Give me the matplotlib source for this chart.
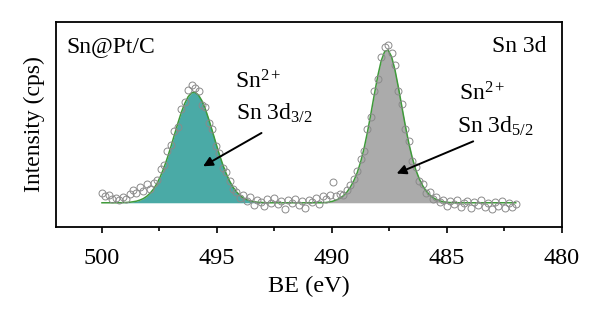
import numpy as np
import matplotlib.pyplot as plt

# binding energy grid (eV), 0.15 eV step from 500.0 down to 482.0
be_start, be_step, n_pts = 500.0, 0.15, 121

# measured intensity above background (a.u.)
counts = [
    10, 7, 8, 4, 5, 3, 6, 4, 9, 13,
    10, 16, 12, 19, 14, 20, 23, 34, 38, 52,
    58, 72, 76, 94, 101, 113, 118, 115, 112, 98,
    96, 80, 74, 57, 50, 35, 31, 22, 14, 11,
    5, 8, 2, 6, -2, 3, 1, -3, 4, 0,
    5, -1, 2, -6, 3, 0, 4, -2, 2, -5,
    3, 1, 5, -1, 7, 4, 8, 21, 7, 9,
    8, 13, 18, 24, 32, 44, 52, 74, 86, 112,
    124, 146, 156, 158, 150, 138, 112, 99, 74, 62,
    42, 36, 22, 19, 10, 11, 4, 6, 1, 3,
    -3, 2, -1, 3, -4, 0, 2, -5, 1, -2,
    3, -4, 0, -6, 1, -3, 2, -5, 0, -4,
    -1,
]

# fitted envelope (Sn 3d3/2 + Sn 3d5/2)
fit = [
    0, 0, 0, 0, 0, 0, 0.1, 0.3, 0.5, 1.0,
    1.6, 2.7, 4.2, 6.5, 9.7, 14.0, 19.7, 26.8, 35.4, 45.4,
    56.4, 68.1, 79.7, 90.5, 99.6, 106.4, 110.3, 110.8, 108.0, 102.2,
    93.8, 83.4, 72.0, 60.3, 49.0, 38.6, 29.5, 21.9, 15.7, 11.0,
    7.4, 4.9, 3.1, 1.9, 1.2, 0.6, 0.3, 0.2, 0, 0,
    0, 0, 0, 0, 0, 0, 0, 0, 0, 0,
    0, 0, 0, 0, 0, 0.3, 0.8, 1.6, 2.8, 4.5,
    7.0, 10.5, 15.5, 21.8, 29.9, 40.7, 54.4, 70.9, 89.4, 108.8,
    127.4, 142.6, 151.8, 153.2, 146.4, 132.9, 115.2, 95.9, 76.9, 59.6,
    45.0, 33.2, 24.2, 17.2, 12.0, 8.0, 5.2, 3.2, 1.9, 1.0,
    0.5, 0.2, 0, 0, 0, 0, 0, 0, 0, 0,
    0, 0, 0, 0, 0, 0, 0, 0, 0, 0,
    0,
]

be = be_start - be_step * np.arange(n_pts)
counts = np.array(counts, dtype=float)
fit = np.array(fit)

plt.rcParams["font.family"] = ["Liberation Serif", "DejaVu Serif"]
plt.rcParams["mathtext.fontset"] = "custom"
plt.rcParams["mathtext.rm"] = "Liberation Serif"
plt.rcParams["mathtext.it"] = "Liberation Serif:italic"

fig = plt.figure(figsize=(6, 3.21), dpi=100)
ax = fig.add_axes([56 / 600, 1 - 226.7 / 321, 505.7 / 600, 204.4 / 321])

teal = "#4aaaa6"
grey = "#ababab"
green = "#3f9a3a"

ax.fill_between(be, 0, fit, where=be > 491, color=teal, lw=0, zorder=1)
ax.fill_between(be, 0, fit, where=be < 491, color=grey, lw=0, zorder=1)
ax.plot(be, fit, color=green, lw=1.1, zorder=2)
ax.plot(be, counts, "o", ms=5, mfc="none", mec="#8a8a8a", mew=0.7, zorder=3)

ax.set_xlim(502, 480)
ax.set_ylim(-24, 181)
ax.set_xticks([500, 495, 490, 485, 480])
ax.set_xticks([497.5, 492.5, 487.5, 482.5], minor=True)
ax.set_yticks([])
ax.tick_params(axis="x", which="major", direction="out", length=4.5, width=1.2,
               labelsize=17.5, pad=11)
ax.tick_params(axis="x", which="minor", direction="out", length=3, width=1.2)
for s in ax.spines.values():
    s.set_linewidth(1.3)

ax.set_xlabel("BE (eV)", fontsize=17.5, labelpad=5)
ax.set_ylabel("Intensity (cps)", fontsize=17, labelpad=8)

ax.text(0.021, 0.856, "Sn@Pt/C", transform=ax.transAxes, fontsize=17,
        ha="left", va="baseline")
ax.text(0.970, 0.856, "Sn 3d", transform=ax.transAxes, fontsize=17,
        ha="right", va="baseline")

ax.text(494.22, 115, r"Sn$^{\mathrm{2+}}$", fontsize=17, va="baseline")
ax.text(494.15, 83, r"Sn 3d$_{\mathrm{3/2}}$", fontsize=17, va="baseline")
ax.text(484.46, 103, r"Sn$^{\mathrm{2+}}$", fontsize=17, va="baseline")
ax.text(484.57, 70, r"Sn 3d$_{\mathrm{5/2}}$", fontsize=17, va="baseline")

arrow = dict(arrowstyle="-|>", color="black", lw=1.4, mutation_scale=14,
             shrinkA=0, shrinkB=0)
ax.annotate("", xy=(495.6, 36.6), xytext=(493.06, 70), arrowprops=arrow)
ax.annotate("", xy=(487.18, 29.3), xytext=(483.85, 61.6), arrowprops=arrow)

fig.savefig("out.png", dpi=100)
